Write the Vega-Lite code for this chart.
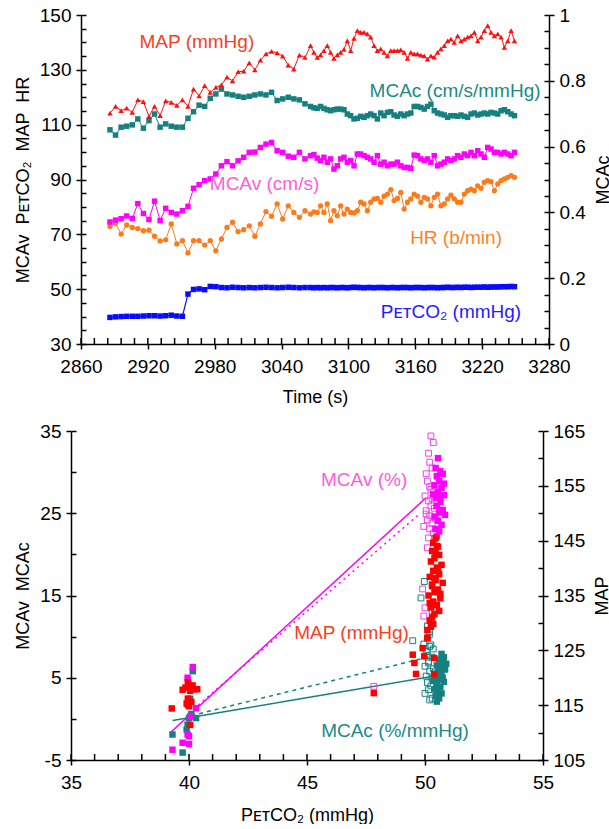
{
  "$schema": "https://vega.github.io/schema/vega-lite/v6.json",
  "background": "white",
  "padding": {"left": 14, "top": 6, "right": 0, "bottom": 0},
  "spacing": 16,
  "resolve": {"scale": {"color": "independent", "strokeDash": "independent"}},
  "config": {
    "font": "Liberation Sans",
    "view": {"stroke": null},
    "axis": {
      "grid": false,
      "domainColor": "black",
      "domainWidth": 1.5,
      "tickColor": "black",
      "tickWidth": 1.5,
      "labelColor": "black",
      "labelFont": "Liberation Sans",
      "labelFontSize": 19,
      "titleFont": "Liberation Sans",
      "titleFontSize": 18,
      "titleFontWeight": "normal",
      "titleColor": "black",
      "labelFlush": false,
      "labelOverlap": false
    }
  },
  "datasets": {
    "ts": [
      {"t":2886,"map":114.2,"mcac":0.651,"mcav":74.5,"hr":72.9,"pet":39.7},
      {"t":2891,"map":116.7,"mcac":0.635,"mcav":75.2,"hr":74.0,"pet":39.9},
      {"t":2896,"map":115.1,"mcac":0.659,"mcav":75.7,"hr":70.1,"pet":40.0},
      {"t":2901,"map":116.0,"mcac":0.662,"mcav":76.7,"hr":73.4,"pet":40.1},
      {"t":2906,"map":114.5,"mcac":0.666,"mcav":75.8,"hr":72.5,"pet":40.1},
      {"t":2911,"map":119.0,"mcac":0.684,"mcav":81.2,"hr":72.1,"pet":40.1},
      {"t":2916,"map":118.4,"mcac":0.656,"mcav":77.6,"hr":71.3,"pet":40.2},
      {"t":2921,"map":113.0,"mcac":0.679,"mcav":75.4,"hr":71.5,"pet":40.3},
      {"t":2926,"map":116.7,"mcac":0.699,"mcav":82.1,"hr":69.3,"pet":40.3},
      {"t":2931,"map":113.3,"mcac":0.659,"mcav":75.0,"hr":67.6,"pet":40.2},
      {"t":2936,"map":118.7,"mcac":0.669,"mcav":79.5,"hr":68.0,"pet":40.3},
      {"t":2941,"map":118.1,"mcac":0.662,"mcav":78.0,"hr":73.8,"pet":40.5},
      {"t":2946,"map":117.0,"mcac":0.659,"mcav":77.4,"hr":66.5,"pet":40.2},
      {"t":2951,"map":119.0,"mcac":0.659,"mcav":78.6,"hr":67.7,"pet":40.1},
      {"t":2956,"map":116.7,"mcac":0.686,"mcav":80.2,"hr":63.2,"pet":48.2},
      {"t":2961,"map":123.0,"mcac":0.706,"mcav":86.8,"hr":67.7,"pet":49.9},
      {"t":2966,"map":120.5,"mcac":0.726,"mcav":88.1,"hr":67.7,"pet":50.1},
      {"t":2971,"map":124.2,"mcac":0.722,"mcav":89.6,"hr":66.1,"pet":49.8},
      {"t":2976,"map":121.8,"mcac":0.747,"mcav":90.2,"hr":67.7,"pet":51.0},
      {"t":2981,"map":123.6,"mcac":0.760,"mcav":92.0,"hr":64.0,"pet":50.9},
      {"t":2986,"map":124.5,"mcac":0.775,"mcav":95.0,"hr":68.3,"pet":50.6},
      {"t":2991,"map":127.3,"mcac":0.760,"mcav":96.5,"hr":72.5,"pet":50.5},
      {"t":2996,"map":126.0,"mcac":0.757,"mcav":95.0,"hr":74.4,"pet":50.7},
      {"t":3001,"map":129.3,"mcac":0.753,"mcav":96.8,"hr":71.0,"pet":50.6},
      {"t":3006,"map":129.5,"mcac":0.750,"mcav":98.1,"hr":71.7,"pet":50.5},
      {"t":3011,"map":132.5,"mcac":0.753,"mcav":99.9,"hr":73.1,"pet":50.6},
      {"t":3016,"map":130.0,"mcac":0.757,"mcav":100.0,"hr":69.3,"pet":50.5},
      {"t":3021,"map":133.5,"mcac":0.760,"mcav":101.7,"hr":73.8,"pet":50.6},
      {"t":3026,"map":135.8,"mcac":0.757,"mcav":102.9,"hr":78.3,"pet":50.7},
      {"t":3031,"map":136.7,"mcac":0.765,"mcav":103.5,"hr":76.6,"pet":50.6},
      {"t":3036,"map":136.2,"mcac":0.740,"mcav":100.5,"hr":81.1,"pet":50.5},
      {"t":3041,"map":135.0,"mcac":0.745,"mcav":99.9,"hr":75.6,"pet":50.6},
      {"t":3046,"map":131.7,"mcac":0.750,"mcav":98.5,"hr":80.4,"pet":50.7},
      {"t":3051,"map":130.3,"mcac":0.745,"mcav":98.1,"hr":78.0,"pet":50.6},
      {"t":3056,"map":135.4,"mcac":0.742,"mcav":99.9,"hr":76.2,"pet":50.5},
      {"t":3061,"map":134.5,"mcac":0.730,"mcav":97.5,"hr":78.6,"pet":50.6},
      {"t":3066,"map":138.8,"mcac":0.722,"mcav":98.7,"hr":77.4,"pet":50.6},
      {"t":3069,"map":136.4,"mcac":0.718,"mcav":99.1,"hr":78.2,"pet":50.5},
      {"t":3072,"map":134.5,"mcac":0.716,"mcav":97.8,"hr":78.0,"pet":50.6},
      {"t":3075,"map":135.5,"mcac":0.722,"mcav":96.9,"hr":80.4,"pet":50.5},
      {"t":3078,"map":137.0,"mcac":0.716,"mcav":98.1,"hr":78.0,"pet":50.6},
      {"t":3081,"map":138.8,"mcac":0.712,"mcav":96.3,"hr":81.1,"pet":50.5},
      {"t":3084,"map":136.4,"mcac":0.709,"mcav":97.5,"hr":75.0,"pet":50.6},
      {"t":3087,"map":134.2,"mcac":0.712,"mcav":93.8,"hr":78.6,"pet":50.6},
      {"t":3090,"map":135.5,"mcac":0.714,"mcav":95.0,"hr":76.8,"pet":50.5},
      {"t":3093,"map":136.4,"mcac":0.714,"mcav":97.5,"hr":80.4,"pet":50.6},
      {"t":3096,"map":137.5,"mcac":0.712,"mcav":98.1,"hr":77.4,"pet":50.6},
      {"t":3099,"map":140.6,"mcac":0.699,"mcav":96.3,"hr":79.2,"pet":50.5},
      {"t":3102,"map":137.0,"mcac":0.694,"mcav":96.9,"hr":78.0,"pet":50.6},
      {"t":3105,"map":141.5,"mcac":0.684,"mcav":95.0,"hr":77.8,"pet":50.7},
      {"t":3108,"map":144.3,"mcac":0.686,"mcav":99.3,"hr":78.6,"pet":50.6},
      {"t":3111,"map":143.7,"mcac":0.692,"mcav":99.3,"hr":81.7,"pet":50.6},
      {"t":3114,"map":143.7,"mcac":0.689,"mcav":98.7,"hr":81.1,"pet":50.5},
      {"t":3117,"map":143.1,"mcac":0.694,"mcav":98.1,"hr":78.6,"pet":50.6},
      {"t":3120,"map":141.9,"mcac":0.699,"mcav":97.5,"hr":81.7,"pet":50.6},
      {"t":3123,"map":138.8,"mcac":0.694,"mcav":96.3,"hr":82.9,"pet":50.5},
      {"t":3126,"map":137.0,"mcac":0.684,"mcav":98.7,"hr":83.1,"pet":50.6},
      {"t":3129,"map":137.6,"mcac":0.702,"mcav":95.6,"hr":81.7,"pet":50.6},
      {"t":3132,"map":136.4,"mcac":0.694,"mcav":96.3,"hr":83.9,"pet":50.6},
      {"t":3135,"map":135.1,"mcac":0.704,"mcav":95.0,"hr":84.7,"pet":50.5},
      {"t":3138,"map":137.0,"mcac":0.706,"mcav":95.6,"hr":86.3,"pet":50.6},
      {"t":3141,"map":137.0,"mcac":0.696,"mcav":95.6,"hr":82.3,"pet":50.6},
      {"t":3144,"map":137.0,"mcac":0.692,"mcav":96.3,"hr":83.1,"pet":50.5},
      {"t":3147,"map":137.3,"mcac":0.699,"mcav":95.0,"hr":85.3,"pet":50.6},
      {"t":3150,"map":136.4,"mcac":0.694,"mcav":94.4,"hr":79.2,"pet":50.6},
      {"t":3153,"map":134.2,"mcac":0.699,"mcav":94.4,"hr":81.7,"pet":50.6},
      {"t":3156,"map":136.4,"mcac":0.702,"mcav":94.1,"hr":82.9,"pet":50.5},
      {"t":3159,"map":135.8,"mcac":0.722,"mcav":98.9,"hr":84.7,"pet":50.6},
      {"t":3162,"map":135.8,"mcac":0.722,"mcav":98.7,"hr":83.9,"pet":50.6},
      {"t":3165,"map":135.4,"mcac":0.719,"mcav":97.5,"hr":81.7,"pet":50.6},
      {"t":3168,"map":135.1,"mcac":0.714,"mcav":96.9,"hr":83.5,"pet":50.5},
      {"t":3171,"map":133.9,"mcac":0.722,"mcav":97.5,"hr":82.9,"pet":50.6},
      {"t":3174,"map":135.1,"mcac":0.729,"mcav":96.3,"hr":80.4,"pet":50.6},
      {"t":3177,"map":134.6,"mcac":0.709,"mcav":98.7,"hr":83.5,"pet":50.6},
      {"t":3180,"map":136.4,"mcac":0.702,"mcav":95.0,"hr":84.7,"pet":50.5},
      {"t":3183,"map":137.6,"mcac":0.699,"mcav":95.6,"hr":80.4,"pet":50.6},
      {"t":3186,"map":138.8,"mcac":0.696,"mcav":96.3,"hr":81.1,"pet":50.6},
      {"t":3189,"map":140.6,"mcac":0.689,"mcav":97.5,"hr":82.9,"pet":50.7},
      {"t":3192,"map":141.2,"mcac":0.694,"mcav":96.9,"hr":84.3,"pet":50.6},
      {"t":3195,"map":140.0,"mcac":0.694,"mcav":97.5,"hr":82.9,"pet":50.6},
      {"t":3198,"map":142.4,"mcac":0.692,"mcav":98.7,"hr":81.7,"pet":50.7},
      {"t":3201,"map":140.6,"mcac":0.696,"mcav":98.1,"hr":81.7,"pet":50.6},
      {"t":3204,"map":141.2,"mcac":0.692,"mcav":99.3,"hr":84.7,"pet":50.7},
      {"t":3207,"map":141.9,"mcac":0.689,"mcav":98.7,"hr":85.9,"pet":50.7},
      {"t":3210,"map":142.4,"mcac":0.699,"mcav":99.9,"hr":86.5,"pet":50.6},
      {"t":3213,"map":143.7,"mcac":0.702,"mcav":98.7,"hr":85.9,"pet":50.7},
      {"t":3216,"map":140.6,"mcac":0.696,"mcav":100.5,"hr":87.7,"pet":50.7},
      {"t":3219,"map":141.9,"mcac":0.699,"mcav":99.3,"hr":86.8,"pet":50.7},
      {"t":3222,"map":144.3,"mcac":0.702,"mcav":98.1,"hr":89.0,"pet":50.8},
      {"t":3225,"map":146.1,"mcac":0.699,"mcav":101.7,"hr":89.6,"pet":50.7},
      {"t":3228,"map":143.7,"mcac":0.704,"mcav":101.1,"hr":89.2,"pet":50.8},
      {"t":3231,"map":142.4,"mcac":0.702,"mcav":99.9,"hr":85.9,"pet":50.8},
      {"t":3234,"map":143.1,"mcac":0.699,"mcav":99.9,"hr":88.4,"pet":50.8},
      {"t":3237,"map":141.9,"mcac":0.709,"mcav":99.3,"hr":89.6,"pet":50.9},
      {"t":3240,"map":138.2,"mcac":0.712,"mcav":99.9,"hr":90.2,"pet":50.9},
      {"t":3243,"map":140.6,"mcac":0.706,"mcav":99.3,"hr":90.8,"pet":50.9},
      {"t":3246,"map":144.3,"mcac":0.699,"mcav":98.7,"hr":91.4,"pet":51.0},
      {"t":3249,"map":140.6,"mcac":0.694,"mcav":99.9,"hr":90.8,"pet":50.9}
    ],
    "xt1": [
      {"t":2860},{"t":2872},{"t":2884},{"t":2896},{"t":2908},{"t":2920},{"t":2932},{"t":2944},{"t":2956},{"t":2968},{"t":2980},{"t":2992},{"t":3004},{"t":3016},{"t":3028},{"t":3040},{"t":3052},{"t":3064},{"t":3076},{"t":3088},{"t":3100},{"t":3112},{"t":3124},{"t":3136},{"t":3148},{"t":3160},{"t":3172},{"t":3184},{"t":3196},{"t":3208},{"t":3220},{"t":3232},{"t":3244},{"t":3256},{"t":3268},{"t":3280}
    ],
    "xt2": [
      {"p":35},{"p":36},{"p":37},{"p":38},{"p":39},{"p":40},{"p":41},{"p":42},{"p":43},{"p":44},{"p":45},{"p":46},{"p":47},{"p":48},{"p":49},{"p":50},{"p":51},{"p":52},{"p":53},{"p":54},{"p":55}
    ],
    "lab1": [
      {"t":2964,"v":140.1,"label":"MAP (mmHg)"},
      {"t":3195.7,"v":122.4,"label":"MCAc (cm/s/mmHg)"},
      {"t":3024.7,"v":88.4,"label":"MCAv (cm/s)"},
      {"t":3196.6,"v":68.5,"label":"HR (b/min)"},
      {"t":3192,"v":41.6,"label":"P\u1d07\u1d1bCO\u2082 (mmHg)"}
    ],
    "sc": [
      {"p":40.16,"v":6.3,"g":"vf"},{"p":39.94,"v":5.0,"g":"vf"},{"p":39.97,"v":4.4,"g":"vf"},{"p":39.3,"v":-3.75,"g":"vf"},{"p":39.73,"v":-2.9,"g":"vf"},{"p":40.0,"v":-3.05,"g":"vf"},{"p":39.94,"v":-1.9,"g":"vf"},{"p":40.0,"v":-2.1,"g":"vf"},{"p":40.3,"v":1.3,"g":"vf"},{"p":40.05,"v":0.3,"g":"vf"},
      {"p":50.55,"v":31.7,"g":"vf"},{"p":50.45,"v":30.5,"g":"vf"},{"p":50.65,"v":30.1,"g":"vf"},{"p":50.5,"v":29.5,"g":"vf"},{"p":50.75,"v":29.8,"g":"vf"},{"p":50.6,"v":28.9,"g":"vf"},{"p":50.4,"v":28.4,"g":"vf"},{"p":50.7,"v":28.1,"g":"vf"},{"p":50.55,"v":27.6,"g":"vf"},{"p":50.8,"v":27.2,"g":"vf"},{"p":50.45,"v":26.9,"g":"vf"},{"p":50.65,"v":26.4,"g":"vf"},{"p":50.5,"v":25.9,"g":"vf"},{"p":50.75,"v":25.4,"g":"vf"},{"p":50.6,"v":25.1,"g":"vf"},{"p":50.4,"v":24.6,"g":"vf"},{"p":50.85,"v":24.8,"g":"vf"},{"p":50.55,"v":24.1,"g":"vf"},{"p":50.7,"v":23.6,"g":"vf"},{"p":50.45,"v":23.1,"g":"vf"},{"p":50.6,"v":22.8,"g":"vf"},{"p":50.5,"v":22.2,"g":"vf"},{"p":50.65,"v":26.9,"g":"vf"},{"p":50.35,"v":27.3,"g":"vf"},{"p":50.8,"v":28.6,"g":"vf"},
      {"p":50.25,"v":34.4,"g":"vo"},{"p":50.35,"v":33.6,"g":"vo"},{"p":50.15,"v":32.3,"g":"vo"},{"p":50.2,"v":31.2,"g":"vo"},{"p":50.05,"v":29.8,"g":"vo"},{"p":50.3,"v":30.5,"g":"vo"},{"p":50.1,"v":28.9,"g":"vo"},{"p":50.2,"v":28.2,"g":"vo"},{"p":50.35,"v":27.6,"g":"vo"},{"p":50.0,"v":27.1,"g":"vo"},{"p":50.15,"v":26.5,"g":"vo"},{"p":50.3,"v":26.8,"g":"vo"},{"p":50.25,"v":25.9,"g":"vo"},{"p":50.05,"v":25.3,"g":"vo"},{"p":50.4,"v":25.6,"g":"vo"},{"p":50.2,"v":24.7,"g":"vo"},{"p":50.1,"v":24.2,"g":"vo"},{"p":50.3,"v":23.8,"g":"vo"},{"p":49.95,"v":23.4,"g":"vo"},{"p":50.2,"v":23.1,"g":"vo"},{"p":50.35,"v":22.6,"g":"vo"},{"p":50.15,"v":22.0,"g":"vo"},{"p":50.05,"v":24.9,"g":"vo"},{"p":50.45,"v":24.3,"g":"vo"},{"p":50.25,"v":27.9,"g":"vo"},{"p":49.9,"v":15.8,"g":"vo"},{"p":50.0,"v":13.5,"g":"vo"},{"p":49.95,"v":12.5,"g":"vo"},{"p":47.83,"v":3.96,"g":"vo"},{"p":50.4,"v":21.5,"g":"vo"},{"p":50.1,"v":20.8,"g":"vo"},
      {"p":40.16,"v":5.8,"g":"cf"},{"p":39.3,"v":-1.9,"g":"cf"},{"p":39.73,"v":-4.1,"g":"cf"},{"p":39.94,"v":-0.7,"g":"cf"},{"p":40.0,"v":0.1,"g":"cf"},{"p":40.3,"v":0.1,"g":"cf"},{"p":40.05,"v":2.45,"g":"cf"},{"p":39.95,"v":1.7,"g":"cf"},{"p":39.9,"v":-1.3,"g":"cf"},{"p":40.1,"v":0.6,"g":"cf"},
      {"p":50.7,"v":7.9,"g":"cf"},{"p":50.8,"v":7.5,"g":"cf"},{"p":50.6,"v":7.2,"g":"cf"},{"p":50.75,"v":6.9,"g":"cf"},{"p":50.5,"v":6.5,"g":"cf"},{"p":50.65,"v":6.2,"g":"cf"},{"p":50.85,"v":6.0,"g":"cf"},{"p":50.55,"v":5.7,"g":"cf"},{"p":50.7,"v":5.4,"g":"cf"},{"p":50.45,"v":5.1,"g":"cf"},{"p":50.6,"v":4.8,"g":"cf"},{"p":50.8,"v":4.5,"g":"cf"},{"p":50.5,"v":4.2,"g":"cf"},{"p":50.65,"v":3.9,"g":"cf"},{"p":50.4,"v":3.6,"g":"cf"},{"p":50.55,"v":3.35,"g":"cf"},{"p":50.7,"v":3.1,"g":"cf"},{"p":50.45,"v":2.8,"g":"cf"},{"p":50.6,"v":2.5,"g":"cf"},{"p":50.5,"v":2.1,"g":"cf"},{"p":50.35,"v":4.6,"g":"cf"},{"p":50.75,"v":5.0,"g":"cf"},{"p":50.9,"v":6.7,"g":"cf"},{"p":50.6,"v":6.0,"g":"cf"},{"p":50.5,"v":3.0,"g":"cf"},
      {"p":49.97,"v":16.7,"g":"co"},{"p":49.83,"v":14.7,"g":"co"},{"p":50.3,"v":13.1,"g":"co"},{"p":50.18,"v":10.2,"g":"co"},{"p":49.48,"v":9.5,"g":"co"},{"p":50.2,"v":10.6,"g":"co"},{"p":50.1,"v":9.8,"g":"co"},{"p":50.25,"v":9.0,"g":"co"},{"p":50.35,"v":8.5,"g":"co"},{"p":50.05,"v":8.2,"g":"co"},{"p":50.15,"v":7.0,"g":"co"},{"p":50.0,"v":6.4,"g":"co"},{"p":50.2,"v":5.8,"g":"co"},{"p":50.1,"v":4.4,"g":"co"},{"p":50.25,"v":4.0,"g":"co"},{"p":50.15,"v":3.55,"g":"co"},{"p":50.3,"v":2.5,"g":"co"},{"p":50.2,"v":2.3,"g":"co"},{"p":50.3,"v":7.5,"g":"co"},{"p":50.05,"v":5.2,"g":"co"},{"p":50.35,"v":6.1,"g":"co"},{"p":50.1,"v":11.3,"g":"co"},{"p":50.25,"v":12.0,"g":"co"},{"p":50.0,"v":3.1,"g":"co"},{"p":50.2,"v":8.8,"g":"co"},{"p":50.1,"v":7.7,"g":"co"},{"p":50.3,"v":4.9,"g":"co"},{"p":50.4,"v":5.6,"g":"co"},{"p":50.15,"v":6.8,"g":"co"},{"p":49.95,"v":9.1,"g":"co"},
      {"p":39.27,"v":114.4,"g":"map"},{"p":39.73,"v":117.8,"g":"map"},{"p":39.95,"v":119.2,"g":"map"},{"p":39.85,"v":118.2,"g":"map"},{"p":40.0,"v":118.5,"g":"map"},{"p":40.05,"v":117.6,"g":"map"},{"p":40.2,"v":117.9,"g":"map"},{"p":40.35,"v":117.9,"g":"map"},{"p":39.9,"v":115.3,"g":"map"},{"p":40.0,"v":114.8,"g":"map"},{"p":40.05,"v":111.4,"g":"map"},{"p":39.95,"v":116.2,"g":"map"},{"p":40.1,"v":115.6,"g":"map"},{"p":40.15,"v":118.6,"g":"map"},
      {"p":50.45,"v":145.5,"g":"map"},{"p":50.35,"v":144.6,"g":"map"},{"p":50.55,"v":143.9,"g":"map"},{"p":50.3,"v":143.1,"g":"map"},{"p":50.6,"v":142.4,"g":"map"},{"p":50.4,"v":141.8,"g":"map"},{"p":50.25,"v":141.2,"g":"map"},{"p":50.7,"v":140.6,"g":"map"},{"p":50.5,"v":140.1,"g":"map"},{"p":50.35,"v":139.5,"g":"map"},{"p":50.6,"v":138.9,"g":"map"},{"p":50.2,"v":138.4,"g":"map"},{"p":50.45,"v":137.8,"g":"map"},{"p":50.75,"v":137.3,"g":"map"},{"p":50.3,"v":136.7,"g":"map"},{"p":50.55,"v":136.1,"g":"map"},{"p":50.4,"v":135.6,"g":"map"},{"p":50.15,"v":135.0,"g":"map"},{"p":50.65,"v":134.5,"g":"map"},{"p":50.35,"v":133.9,"g":"map"},{"p":50.5,"v":133.3,"g":"map"},{"p":50.25,"v":132.8,"g":"map"},{"p":50.6,"v":132.2,"g":"map"},{"p":50.4,"v":131.6,"g":"map"},{"p":50.3,"v":131.0,"g":"map"},{"p":50.2,"v":130.4,"g":"map"},{"p":50.35,"v":129.8,"g":"map"},{"p":50.25,"v":129.3,"g":"map"},{"p":50.1,"v":128.7,"g":"map"},{"p":50.45,"v":142.9,"g":"map"},{"p":50.55,"v":139.8,"g":"map"},{"p":50.3,"v":137.0,"g":"map"},{"p":50.65,"v":135.3,"g":"map"},{"p":50.2,"v":133.6,"g":"map"},{"p":50.5,"v":144.0,"g":"map"},{"p":50.4,"v":138.2,"g":"map"},
      {"p":50.1,"v":127.3,"g":"map"},{"p":49.48,"v":124.2,"g":"map"},{"p":49.55,"v":122.7,"g":"map"},{"p":49.62,"v":120.7,"g":"map"},{"p":49.97,"v":123.9,"g":"map"},{"p":49.9,"v":125.4,"g":"map"},{"p":50.39,"v":123.6,"g":"map"},{"p":50.39,"v":120.6,"g":"map"},{"p":47.83,"v":117.2,"g":"map"}
    ],
    "reg": [
      {"p":39.2,"v":-1.7,"line":"vs"},{"p":50.05,"v":26.9,"line":"vs"},
      {"p":40.2,"v":1.2,"line":"vd"},{"p":49.8,"v":25.0,"line":"vd"},
      {"p":39.3,"v":-0.2,"line":"cs"},{"p":50.8,"v":5.4,"line":"cs"},
      {"p":40.1,"v":0.4,"line":"cd"},{"p":50.25,"v":7.6,"line":"cd"}
    ],
    "lab2": [
      {"p":47.42,"v":29.08,"label":"MCAv (%)"},
      {"p":46.89,"v":10.44,"label":"MAP (mmHg)"},
      {"p":48.73,"v":-1.44,"label":"MCAc (%/mmHg)"}
    ]
  },
  "vconcat": [
    {
      "width": 478,
      "height": 329,
      "layer": [
        {
          "data": {"name": "xt1"},
          "mark": {"type": "rule", "color": "black", "strokeWidth": 1.5},
          "encoding": {
            "x": {"field": "t", "type": "quantitative", "scale": {"domain": [2860, 3280], "range": [10, 478], "nice": false, "zero": false},
              "axis": {"orient": "bottom", "values": [2860, 2920, 2980, 3040, 3100, 3160, 3220, 3280], "format": "d", "tickSize": 5, "labelPadding": 8, "title": "Time (s)", "titlePadding": 12}},
            "y": {"datum": 30, "type": "quantitative", "scale": {"domain": [30, 150], "nice": false, "zero": false}, "axis": null},
            "y2": {"datum": 32.2}
          }
        },
        {
          "data": {"name": "ts"},
          "mark": {"type": "line", "color": "#0A0AFF", "strokeWidth": 1.2},
          "encoding": {
            "x": {"field": "t", "type": "quantitative"},
            "y": {"field": "pet", "type": "quantitative", "scale": {"domain": [30, 150], "nice": false, "zero": false},
              "axis": {"orient": "left", "offset": -10, "values": [30, 50, 70, 90, 110, 130, 150], "tickSize": 5, "labelPadding": 5, "title": "MCAv \u00a0P\u1d07\u1d1bCO\u2082 \u00a0MAP \u00a0HR", "titlePadding": 7}}
          }
        },
        {
          "data": {"name": "ts"},
          "mark": {"type": "point", "shape": "square", "size": 30, "filled": true, "color": "#0A0AFF", "opacity": 1},
          "encoding": {
            "x": {"field": "t", "type": "quantitative"},
            "y": {"field": "pet", "type": "quantitative", "scale": {"domain": [30, 150], "nice": false, "zero": false},
              "axis": {"orient": "left", "offset": -10, "values": [30,35,40,45,50,55,60,65,70,75,80,85,90,95,100,105,110,115,120,125,130,135,140,145,150], "tickSize": -5, "labels": false, "domain": false, "title": null}}
          }
        },
        {
          "data": {"name": "ts"},
          "mark": {"type": "line", "color": "#168080", "strokeWidth": 1},
          "encoding": {
            "x": {"field": "t", "type": "quantitative"},
            "y": {"field": "mcac", "type": "quantitative", "scale": {"domain": [0, 1], "nice": false, "zero": false},
              "axis": {"orient": "right", "values": [0, 0.2, 0.4, 0.6, 0.8, 1], "format": "~g", "tickSize": 5, "labelPadding": 5, "title": "MCAc", "titleAngle": 270, "titleBaseline": "top", "titlePadding": 9}}
          }
        },
        {
          "data": {"name": "ts"},
          "mark": {"type": "point", "shape": "square", "size": 30, "filled": true, "color": "#168080", "opacity": 1},
          "encoding": {
            "x": {"field": "t", "type": "quantitative"},
            "y": {"field": "mcac", "type": "quantitative", "scale": {"domain": [0, 1], "nice": false, "zero": false},
              "axis": {"orient": "right", "values": [0,0.05,0.1,0.15,0.2,0.25,0.3,0.35,0.4,0.45,0.5,0.55,0.6,0.65,0.7,0.75,0.8,0.85,0.9,0.95,1], "tickSize": -5, "labels": false, "domain": false, "title": null}}
          }
        },
        {
          "data": {"name": "ts"},
          "mark": {"type": "line", "color": "#FF7A1A", "strokeWidth": 1},
          "encoding": {
            "x": {"field": "t", "type": "quantitative"},
            "y": {"field": "hr", "type": "quantitative", "scale": {"domain": [30, 150], "nice": false, "zero": false}, "axis": null}
          }
        },
        {
          "data": {"name": "ts"},
          "mark": {"type": "point", "shape": "circle", "size": 28, "filled": true, "color": "#FF7A1A", "opacity": 1},
          "encoding": {
            "x": {"field": "t", "type": "quantitative"},
            "y": {"field": "hr", "type": "quantitative", "scale": {"domain": [30, 150], "nice": false, "zero": false}, "axis": null}
          }
        },
        {
          "data": {"name": "ts"},
          "mark": {"type": "line", "color": "#FF00FF", "strokeWidth": 1},
          "encoding": {
            "x": {"field": "t", "type": "quantitative"},
            "y": {"field": "mcav", "type": "quantitative", "scale": {"domain": [30, 150], "nice": false, "zero": false}, "axis": null}
          }
        },
        {
          "data": {"name": "ts"},
          "mark": {"type": "point", "shape": "square", "size": 30, "filled": true, "color": "#FF00FF", "opacity": 1},
          "encoding": {
            "x": {"field": "t", "type": "quantitative"},
            "y": {"field": "mcav", "type": "quantitative", "scale": {"domain": [30, 150], "nice": false, "zero": false}, "axis": null}
          }
        },
        {
          "data": {"name": "ts"},
          "mark": {"type": "line", "color": "#FF1010", "strokeWidth": 1},
          "encoding": {
            "x": {"field": "t", "type": "quantitative"},
            "y": {"field": "map", "type": "quantitative", "scale": {"domain": [30, 150], "nice": false, "zero": false}, "axis": null}
          }
        },
        {
          "data": {"name": "ts"},
          "mark": {"type": "point", "shape": "triangle-up", "size": 30, "filled": true, "color": "#FF1010", "opacity": 1},
          "encoding": {
            "x": {"field": "t", "type": "quantitative"},
            "y": {"field": "map", "type": "quantitative", "scale": {"domain": [30, 150], "nice": false, "zero": false}, "axis": null}
          }
        },
        {
          "data": {"name": "lab1"},
          "mark": {"type": "text", "fontSize": 19, "font": "Liberation Sans", "align": "center", "baseline": "middle"},
          "encoding": {
            "x": {"field": "t", "type": "quantitative"},
            "y": {"field": "v", "type": "quantitative", "scale": {"domain": [30, 150], "nice": false, "zero": false}, "axis": null},
            "text": {"field": "label"},
            "color": {"field": "label", "type": "nominal", "legend": null,
              "scale": {"domain": ["MAP (mmHg)", "MCAc (cm/s/mmHg)", "MCAv (cm/s)", "HR (b/min)", "P\u1d07\u1d1bCO\u2082 (mmHg)"], "range": ["#F8401E", "#1A8A86", "#FF5CDD", "#FF7F27", "#1E1EFF"]}}
          }
        }
      ],
      "resolve": {"scale": {"y": "independent"}}
    },
    {
      "width": 472,
      "height": 329,
      "layer": [
        {
          "data": {"name": "xt2"},
          "mark": {"type": "rule", "color": "black", "strokeWidth": 1.5},
          "encoding": {
            "x": {"field": "p", "type": "quantitative", "scale": {"domain": [35, 55], "nice": false, "zero": false},
              "axis": {"orient": "bottom", "values": [35, 40, 45, 50, 55], "tickSize": 5, "labelPadding": 8, "title": "P\u1d07\u1d1bCO\u2082 (mmHg)", "titlePadding": 14}},
            "y": {"datum": -5, "type": "quantitative", "scale": {"domain": [-5, 35], "nice": false, "zero": false}, "axis": null},
            "y2": {"datum": -4.27}
          }
        },
        {
          "data": {"name": "reg"},
          "mark": {"type": "line", "strokeWidth": 1.5},
          "encoding": {
            "x": {"field": "p", "type": "quantitative"},
            "y": {"field": "v", "type": "quantitative", "scale": {"domain": [-5, 35], "nice": false, "zero": false},
              "axis": {"orient": "left", "values": [-5, 5, 15, 25, 35], "labelExpr": "replace(datum.label, '\u2212', '-')", "tickSize": 5, "labelPadding": 5, "title": "MCAv \u00a0MCAc", "titlePadding": 7}},
            "color": {"field": "line", "type": "nominal", "legend": null, "scale": {"domain": ["vs", "vd", "cs", "cd"], "range": ["#FF00FF", "#FF00FF", "#168080", "#168080"]}},
            "strokeDash": {"field": "line", "type": "nominal", "legend": null, "scale": {"domain": ["vs", "vd", "cs", "cd"], "range": [[1, 0], [2, 4], [1, 0], [4, 4]]}}
          }
        },
        {
          "data": {"name": "sc"},
          "transform": [{"filter": {"field": "g", "equal": "co"}}],
          "mark": {"type": "point", "shape": "square", "size": 34, "filled": false, "strokeWidth": 1, "color": "#168080", "opacity": 1},
          "encoding": {
            "x": {"field": "p", "type": "quantitative"},
            "y": {"field": "v", "type": "quantitative", "scale": {"domain": [-5, 35], "nice": false, "zero": false},
              "axis": {"orient": "left", "values": [-5, 0, 5, 10, 15, 20, 25, 30, 35], "tickSize": -5, "labels": false, "domain": false, "title": null}}
          }
        },
        {
          "data": {"name": "sc"},
          "transform": [{"filter": {"field": "g", "equal": "vo"}}],
          "mark": {"type": "point", "shape": "square", "size": 34, "filled": false, "strokeWidth": 1, "color": "#F040F0", "opacity": 1},
          "encoding": {
            "x": {"field": "p", "type": "quantitative"},
            "y": {"field": "v", "type": "quantitative", "scale": {"domain": [-5, 35], "nice": false, "zero": false}, "axis": null}
          }
        },
        {
          "data": {"name": "sc"},
          "transform": [{"filter": {"field": "g", "equal": "cf"}}],
          "mark": {"type": "point", "shape": "square", "size": 42, "filled": true, "color": "#168080", "opacity": 1},
          "encoding": {
            "x": {"field": "p", "type": "quantitative"},
            "y": {"field": "v", "type": "quantitative", "scale": {"domain": [-5, 35], "nice": false, "zero": false}, "axis": null}
          }
        },
        {
          "data": {"name": "sc"},
          "transform": [{"filter": {"field": "g", "equal": "vf"}}],
          "mark": {"type": "point", "shape": "square", "size": 42, "filled": true, "color": "#FF00FF", "opacity": 1},
          "encoding": {
            "x": {"field": "p", "type": "quantitative"},
            "y": {"field": "v", "type": "quantitative", "scale": {"domain": [-5, 35], "nice": false, "zero": false}, "axis": null}
          }
        },
        {
          "data": {"name": "sc"},
          "transform": [{"filter": {"field": "g", "equal": "map"}}],
          "mark": {"type": "point", "shape": "square", "size": 42, "filled": true, "color": "#FF0000", "opacity": 1},
          "encoding": {
            "x": {"field": "p", "type": "quantitative"},
            "y": {"field": "v", "type": "quantitative", "scale": {"domain": [105, 165], "nice": false, "zero": false},
              "axis": {"orient": "right", "values": [105, 115, 125, 135, 145, 155, 165], "tickSize": 5, "labelPadding": 5, "title": "MAP", "titleAngle": 270, "titleBaseline": "top", "titlePadding": 9}}
          }
        },
        {
          "data": {"name": "sc"},
          "transform": [{"filter": {"field": "g", "equal": "map"}}],
          "mark": {"type": "point", "shape": "square", "size": 42, "filled": true, "color": "#FF0000", "opacity": 0},
          "encoding": {
            "x": {"field": "p", "type": "quantitative"},
            "y": {"field": "v", "type": "quantitative", "scale": {"domain": [105, 165], "nice": false, "zero": false},
              "axis": {"orient": "right", "values": [105,110,115,120,125,130,135,140,145,150,155,160,165], "tickSize": -5, "labels": false, "domain": false, "title": null}}
          }
        },
        {
          "data": {"name": "lab2"},
          "mark": {"type": "text", "fontSize": 19, "font": "Liberation Sans", "align": "center", "baseline": "middle"},
          "encoding": {
            "x": {"field": "p", "type": "quantitative"},
            "y": {"field": "v", "type": "quantitative", "scale": {"domain": [-5, 35], "nice": false, "zero": false}, "axis": null},
            "text": {"field": "label"},
            "color": {"field": "label", "type": "nominal", "legend": null,
              "scale": {"domain": ["MCAv (%)", "MAP (mmHg)", "MCAc (%/mmHg)"], "range": ["#FF5CDD", "#F8401E", "#1A8A86"]}}
          }
        }
      ],
      "resolve": {"scale": {"y": "independent", "color": "independent", "strokeDash": "independent"}}
    }
  ]
}
